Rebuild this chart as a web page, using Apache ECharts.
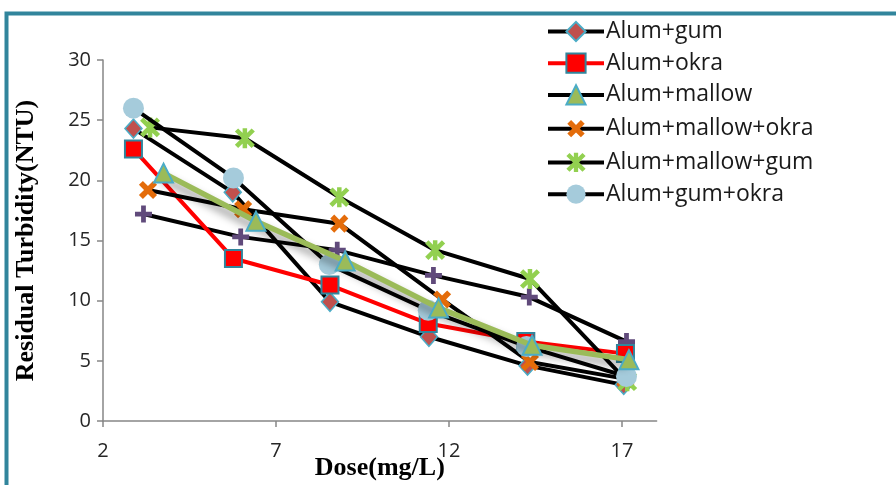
<!DOCTYPE html>
<html>
<head>
<meta charset="utf-8">
<script src="https://cdn.jsdelivr.net/npm/echarts@6/dist/echarts.min.js"></script>
<style>html,body{margin:0;padding:0;background:#fff}#c{width:896px;height:485px}</style>
</head>
<body>
<div id="c"></div>
<script>
// ---- data ----
const seriesNames = ['Alum+gum', 'Alum+okra', 'Alum+mallow', 'Alum+mallow+okra', 'Alum+mallow+gum', 'Alum+gum+okra'];
const extraName = 'Series7';
const xTicks = [2, 7, 12, 17];
const yTicks = [0, 5, 10, 15, 20, 25, 30];

const gumX = [2.88, 5.75, 8.56, 11.42, 14.27, 17.05];
const gumY = [24.3, 19.0, 9.9, 7.0, 4.6, 3.0];
const okraX = [2.88, 5.77, 8.56, 11.40, 14.22, 17.10];
const okraY = [22.6, 13.5, 11.3, 8.1, 6.6, 5.6];
const mallowX = [3.75, 6.42, 9.00, 11.70, 14.40, 17.20];
const mallowY = [20.6, 16.6, 13.3, 9.4, 6.3, 5.1];
const mallowOkraX = [3.30, 6.05, 8.83, 11.80, 14.34, 17.10];
const mallowOkraY = [19.2, 17.6, 16.4, 10.1, 4.9, 3.5];
const mallowGumX = [3.36, 6.10, 8.83, 11.60, 14.34, 17.15];
const mallowGumY = [24.4, 23.5, 18.6, 14.2, 11.8, 3.3];
const gumOkraX = [2.88, 5.77, 8.54, 11.40, 14.24, 17.13];
const gumOkraY = [26.0, 20.2, 13.0, 9.2, 6.2, 3.7];
const plusX = [3.17, 5.98, 8.77, 11.55, 14.32, 17.13];
const plusY = [17.2, 15.3, 14.2, 12.1, 10.3, 6.6];

function pairs(xs, ys) { return xs.map((x, i) => [x, ys[i]]); }

const PLUS = 'path://M-1.4,-5L1.4,-5L1.4,-1.4L5,-1.4L5,1.4L1.4,1.4L1.4,5L-1.4,5L-1.4,1.4L-5,1.4L-5,-1.4L-1.4,-1.4Z';
const ASTER = 'path://M-1.1,-5L1.1,-5L1.1,5L-1.1,5Z M-4.9,-3.3L-3.3,-4.9L4.9,3.3L3.3,4.9Z M3.3,-4.9L4.9,-3.3L-3.3,4.9L-4.9,3.3Z';

const chart = echarts.init(document.getElementById('c'), null, {renderer: 'canvas'});
const black = '#000000';

function lineSeries(name, data, opts) {
  return Object.assign({
    name: name, type: 'line', data: data, animation: false,
    symbolKeepAspect: false
  }, opts);
}

const series = [
  lineSeries(extraName, pairs(plusX, plusY), {
    symbol: PLUS, symbolSize: 17,
    itemStyle: {color: '#604A7B'},
    lineStyle: {color: black, width: 4}, z: 2
  }),
  lineSeries(seriesNames[0], pairs(gumX, gumY), {
    symbol: 'diamond', symbolSize: [17, 19],
    itemStyle: {color: '#C0504D', borderColor: '#4BACC6', borderWidth: 1.5},
    lineStyle: {color: black, width: 4}, z: 3
  }),
  lineSeries(seriesNames[1], pairs(okraX, okraY), {
    symbol: 'rect', symbolSize: 17,
    itemStyle: {color: '#FF0000', borderColor: '#31859C', borderWidth: 2},
    lineStyle: {color: '#FF0000', width: 4}, z: 3
  }),
  lineSeries(seriesNames[3], pairs(mallowOkraX, mallowOkraY), {
    symbol: PLUS, symbolSize: 20, symbolRotate: 45,
    itemStyle: {color: '#E46C0A'},
    lineStyle: {color: black, width: 4}, z: 3
  }),
  lineSeries(seriesNames[4], pairs(mallowGumX, mallowGumY), {
    symbol: ASTER, symbolSize: 20,
    itemStyle: {color: '#92D050'},
    lineStyle: {color: black, width: 4}, z: 3
  }),
  lineSeries(seriesNames[5], pairs(gumOkraX, gumOkraY), {
    symbol: 'circle', symbolSize: 21,
    itemStyle: {color: '#A5CBDB'},
    lineStyle: {color: black, width: 4}, z: 4
  }),
  lineSeries(seriesNames[2], pairs(mallowX, mallowY), {
    symbol: 'triangle', symbolSize: 19,
    itemStyle: {color: '#9BBB59', borderColor: '#4BACC6', borderWidth: 2},
    lineStyle: {color: '#9BBB59', width: 5.5, shadowColor: 'rgba(0,0,0,0.45)', shadowBlur: 8, shadowOffsetX: -2, shadowOffsetY: 5}, z: 5
  })
];

const option = {
  backgroundColor: '#ffffff',
  animation: false,
  grid: {left: 103, top: 60, width: 553.6, height: 361, outerBoundsMode: 'none', containLabel: false},
  graphic: [{
    type: 'rect', silent: true, z: 100,
    shape: {x: 6.5, y: 13.5, width: 1000, height: 1000},
    style: {fill: 'none', stroke: '#31859C', lineWidth: 4}
  }],
  legend: {
    left: 546, top: 20, orient: 'vertical', padding: 0,
    itemWidth: 56, itemHeight: 24, itemGap: 8.7,
    lineStyle: {width: 4},
    textStyle: {fontFamily: '"Open Sans", sans-serif', fontSize: 23, color: '#1a1a1a', padding: [0, 0, 0, -3]},
    data: [
      {name: seriesNames[0]},
      {name: seriesNames[1]},
      {name: seriesNames[2], lineStyle: {color: black, shadowBlur: 0, shadowColor: 'transparent', width: 4}},
      {name: seriesNames[3]},
      {name: seriesNames[4]},
      {name: seriesNames[5]}
    ]
  },
  xAxis: {
    type: 'value', min: 2, max: 18,
    name: 'Dose(mg/L)', nameLocation: 'middle', nameGap: 34, nameMoveOverlap: false,
    nameTextStyle: {fontFamily: '"Liberation Serif", serif', fontWeight: 'bold', fontSize: 26, color: '#000'},
    axisLine: {show: true, lineStyle: {color: '#868686', width: 1.5}},
    axisTick: {show: true, length: 6, inside: false, customValues: xTicks, lineStyle: {color: '#868686', width: 1.5}},
    axisLabel: {customValues: xTicks, margin: 20, fontFamily: '"Open Sans", sans-serif', fontSize: 20, color: '#262626'},
    splitLine: {show: false}
  },
  yAxis: {
    type: 'value', min: 0, max: 30, interval: 5,
    name: 'Residual Turbidity(NTU)', nameLocation: 'middle', nameGap: 64, nameRotate: 90, nameMoveOverlap: false,
    nameTextStyle: {fontFamily: '"Liberation Serif", serif', fontWeight: 'bold', fontSize: 26, color: '#000'},
    axisLine: {show: true, lineStyle: {color: '#868686', width: 1.5}},
    axisTick: {show: true, length: 6, lineStyle: {color: '#868686', width: 1.5}},
    axisLabel: {margin: 12, fontFamily: '"Open Sans", sans-serif', fontSize: 20, color: '#262626',
      customValues: yTicks},
    splitLine: {show: false}
  },
  series: series
};
chart.setOption(option);
</script>
</body>
</html>
